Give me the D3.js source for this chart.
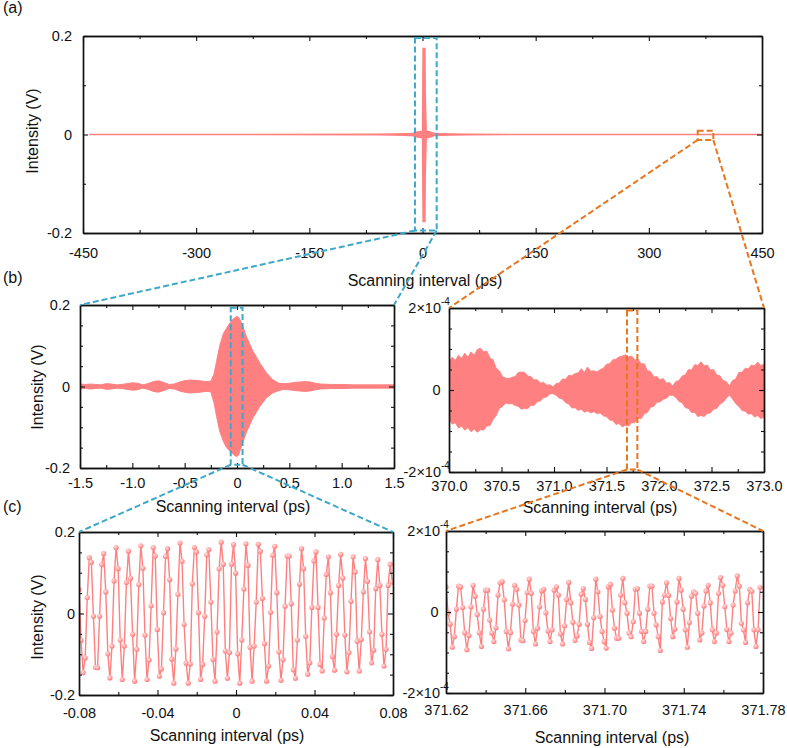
<!DOCTYPE html>
<html><head><meta charset="utf-8">
<script src="https://cdn.jsdelivr.net/npm/d3@7"></script>
<style>body{margin:0;background:#fff}</style>
</head><body><script>
// ---------------- DATA ----------------
// (a) full scan envelope (ps, V)
const aX  = [-442,-60,-40,-25,-16,-12,-8,-4,0,0.3,0.7,3.3,3.7,5,9,13,16,25,40,60,450];
const aUp = [0,0.0005,0.001,0.0015,0.002,0.003,0.005,0.006,0.007,0.085,0.175,0.175,0.085,0.007,0.006,0.004,0.002,0.0015,0.001,0.0005,0];
const aLo = [0,-0.0005,-0.001,-0.0015,-0.002,-0.003,-0.005,-0.006,-0.007,-0.085,-0.177,-0.177,-0.085,-0.007,-0.006,-0.004,-0.002,-0.0015,-0.001,-0.0005,0];
const aXTicks = [-450,-300,-150,0,150,300,450];
const aXMinor = [-375,-225,-75,75,225,375];
const aYTicks = [-0.2,0,0.2];
const aYMinor = [-0.1,0.1];

// (b) left: envelope of the central burst (ps, V)
const bLX  = [-1.5,-1.45,-1.4,-1.35,-1.3,-1.25,-1.2,-1.15,-1.1,-1.05,-1.0,-0.95,-0.9,-0.85,-0.8,-0.75,-0.7,-0.65,-0.6,-0.55,-0.5,-0.45,-0.4,-0.35,-0.3,-0.25,-0.22,-0.195,-0.165,-0.13,-0.1,-0.07,-0.04,-0.02,0,0.015,0.045,0.09,0.15,0.22,0.28,0.34,0.4,0.45,0.5,0.55,0.6,0.65,0.7,0.75,0.8,0.9,1.0,1.1,1.2,1.3,1.4,1.5];
const bLUp = [0.006,0.005,0.006,0.005,0.004,0.007,0.006,0.004,0.005,0.007,0.009,0.008,0.004,0.007,0.012,0.014,0.01,0.005,0.006,0.011,0.014,0.016,0.015,0.014,0.012,0.013,0.03,0.062,0.1,0.13,0.143,0.155,0.165,0.169,0.172,0.17,0.155,0.122,0.088,0.057,0.034,0.017,0.008,0.007,0.008,0.01,0.011,0.012,0.011,0.008,0.006,0.005,0.005,0.004,0.004,0.004,0.004,0.004];
const bLLo = [-0.006,-0.005,-0.006,-0.005,-0.004,-0.007,-0.006,-0.004,-0.005,-0.007,-0.009,-0.008,-0.004,-0.007,-0.012,-0.014,-0.01,-0.005,-0.006,-0.011,-0.014,-0.016,-0.015,-0.014,-0.012,-0.013,-0.04,-0.073,-0.11,-0.135,-0.15,-0.158,-0.165,-0.17,-0.172,-0.168,-0.145,-0.112,-0.078,-0.048,-0.028,-0.016,-0.01,-0.007,-0.008,-0.01,-0.011,-0.012,-0.011,-0.008,-0.006,-0.005,-0.005,-0.004,-0.004,-0.004,-0.004,-0.004];
const bLXTicks = [-1.5,-1.0,-0.5,0,0.5,1.0,1.5];
const bLXMinor = [-1.25,-0.75,-0.25,0.25,0.75,1.25];
const bYTicks = [-0.2,0,0.2];
const bYMinor = [-0.15,-0.1,-0.05,0.05,0.1,0.15];

// (b) right: envelope near 371 ps, read every 0.03 ps from 370.00 (units of 1e-4 V)
const bRStart = 370.0, bRStep = 0.03;
const bRUp = [0.70,0.80,0.72,0.85,0.77,0.90,0.80,0.93,0.85,0.99,
1.02,0.93,0.95,0.78,0.74,0.53,0.47,0.33,0.29,0.28,
0.31,0.33,0.43,0.44,0.43,0.34,0.33,0.25,0.25,0.17,
0.19,0.12,0.13,0.08,0.16,0.17,0.27,0.26,0.36,0.35,
0.40,0.42,0.52,0.43,0.56,0.46,0.47,0.44,0.50,0.53,
0.63,0.64,0.74,0.75,0.81,0.83,0.86,0.81,0.83,0.73,
0.75,0.64,0.64,0.47,0.45,0.32,0.33,0.25,0.28,0.17,
0.18,0.10,0.21,0.23,0.34,0.37,0.50,0.49,0.62,0.60,
0.69,0.59,0.61,0.49,0.50,0.37,0.35,0.23,0.21,0.10,
0.23,0.27,0.43,0.43,0.53,0.52,0.61,0.59,0.68,0.60,
0.63];
const bRLo = [-0.72,-0.83,-0.80,-0.93,-0.88,-0.98,-0.92,-1.02,-0.96,-1.03,
-0.97,-0.98,-0.88,-0.87,-0.72,-0.62,-0.45,-0.40,-0.32,-0.34,
-0.33,-0.38,-0.40,-0.47,-0.45,-0.46,-0.37,-0.38,-0.29,-0.27,
-0.19,-0.17,-0.10,-0.09,-0.13,-0.20,-0.22,-0.31,-0.34,-0.44,
-0.43,-0.50,-0.47,-0.54,-0.51,-0.56,-0.53,-0.58,-0.56,-0.63,
-0.65,-0.73,-0.75,-0.84,-0.82,-0.90,-0.86,-0.88,-0.80,-0.80,
-0.70,-0.70,-0.58,-0.55,-0.42,-0.40,-0.30,-0.29,-0.23,-0.20,
-0.13,-0.13,-0.18,-0.28,-0.31,-0.43,-0.45,-0.55,-0.55,-0.65,
-0.62,-0.65,-0.57,-0.56,-0.47,-0.45,-0.35,-0.30,-0.20,-0.13,
-0.22,-0.33,-0.40,-0.50,-0.52,-0.59,-0.58,-0.66,-0.62,-0.70,
-0.66];
const bRXTicks = [370.0,370.5,371.0,371.5,372.0,372.5,373.0];
const bRXMinor = [370.25,370.75,371.25,371.75,372.25,372.75];
const smallYTicks = [-2,0,2];          // x 1e-4
const smallYMinor = [-1.5,-1,-0.5,0.5,1,1.5];

// (c) left: sampled points, start -0.08 ps, step 0.00105 ps (V)
const cLStart = -0.08, cStep = 0.00105;
const cLY = [0.059,-0.066,-0.145,-0.109,0.039,0.137,0.126,-0.007,-0.132,-0.133,
-0.007,0.12,0.147,0.053,-0.099,-0.158,-0.08,0.08,0.162,0.11,
-0.065,-0.162,-0.08,0.076,0.153,0.086,-0.051,-0.166,-0.088,0.071,
0.166,0.111,-0.053,-0.162,-0.114,0.019,0.162,0.141,-0.039,-0.154,
-0.136,0.002,0.14,0.159,0.083,-0.112,-0.171,-0.087,0.047,0.173,
0.128,-0.027,-0.122,-0.171,-0.124,0.073,0.162,0.151,0.002,-0.162,
-0.125,-0.007,0.144,0.157,0.028,-0.113,-0.166,-0.045,0.11,0.175,
0.121,-0.092,-0.159,-0.096,0.121,0.169,0.099,-0.099,-0.171,-0.065,
0.06,0.171,0.118,-0.083,-0.166,-0.08,0.028,0.17,0.153,0.037,
-0.074,-0.166,-0.129,0.003,0.143,0.165,0.051,-0.094,-0.164,-0.113,
0.018,0.141,0.141,0.024,-0.138,-0.159,-0.065,0.072,0.159,0.11,
-0.056,-0.149,-0.121,0.015,0.129,0.151,0.015,-0.125,-0.141,-0.011,
0.096,0.139,0.051,-0.106,-0.139,-0.051,0.069,0.145,0.087,-0.053,
-0.143,-0.096,0.03,0.139,0.102,-0.068,-0.141,-0.064,0.053,0.135,
0.079,-0.045,-0.121,-0.09,0.061,0.132,0.069,-0.051,-0.129,-0.088,
0.069,0.121,0.077];
const cLXTicks = [-0.08,-0.04,0,0.04,0.08];
const cLXMinor = [-0.06,-0.02,0.02,0.06];

// (c) right: sampled points, start 371.62 ps (units of 1e-4 V)
const cRStart = 371.62;
const cRY = [0.62,-0.02,-0.30,-0.87,-0.61,0.07,0.64,0.62,0.11,-0.51,
-0.93,-0.58,0.13,0.66,0.39,-0.06,-0.51,-0.85,0.07,0.54,
0.54,-0.20,-0.52,-0.73,-0.39,0.42,0.72,0.75,0.30,-0.48,
-0.91,-0.51,0.19,0.66,0.56,0.17,-0.69,-0.71,-0.21,0.48,
0.81,0.46,-0.48,-0.79,-0.40,0.13,0.52,0.56,-0.02,-0.47,
-0.73,-0.44,0.54,0.62,0.42,-0.54,-0.79,-0.34,0.31,0.73,
0.23,-0.25,-0.70,-0.59,-0.30,0.44,0.58,0.31,-0.30,-0.75,
-0.90,-0.14,0.81,0.50,-0.11,-0.48,-0.73,-0.89,0.62,0.68,
0.05,-0.40,-0.65,-0.65,0.42,0.83,0.23,-0.03,-0.52,-0.61,
-0.24,0.56,0.58,-0.03,-0.48,-0.73,-0.48,0.07,0.64,0.64,
-0.03,-0.32,-0.61,-0.95,0.25,0.42,0.72,0.41,-0.16,-0.61,
-0.42,0.25,0.83,0.54,0.07,-0.44,-0.87,-0.26,0.39,0.50,
0.46,-0.03,-0.69,-0.52,0.15,0.52,0.66,0.23,-0.44,-0.73,
-0.52,0.46,0.85,0.66,0.13,-0.43,-0.73,-0.52,0.17,0.52,
0.89,0.64,-0.28,-0.44,-0.75,0.23,0.56,0.51,-0.44,-0.85,
-0.44,0.61];
const cRXTicks = [371.62,371.66,371.70,371.74,371.78];
const cRXMinor = [371.64,371.68,371.72,371.76];

// zoom boxes [x0,x1,y0,y1] in their panel's data units
const aBlueBox   = [-10, 18.8, -0.195, 0.196];
const aOrangeBox = [364.8, 385.5, -0.011, 0.0077];
const bBlueBox   = [-0.06, 0.053, -0.192, 0.193];
const bOrangeBox = [371.695, 371.794, -1.94, 1.94];

const xTitle = "Scanning interval (ps)", yTitle = "Intensity (V)";

// ---------------- DRAWING ----------------
const FONT = "'Liberation Sans', Arial, sans-serif";
const RED = "#FF8080", BLUE = "#3DA8C8", ORANGE = "#E8761E";
const svg = d3.select("body").append("svg").attr("width",787).attr("height",748)
  .style("font-family",FONT);
const defs = svg.append("defs");
const grad = defs.append("radialGradient").attr("id","ball").attr("cx","38%").attr("cy","35%").attr("r","70%");
grad.append("stop").attr("offset","0%").attr("stop-color","#FFE2E2");
grad.append("stop").attr("offset","100%").attr("stop-color","#FF7070");

function panel(c){
  const x = d3.scaleLinear().domain(c.xDomain).range([c.left,c.right]);
  const y = d3.scaleLinear().domain(c.yDomain).range([c.bottom,c.top]);
  defs.append("clipPath").attr("id","clip"+c.id).append("rect")
    .attr("x",c.left).attr("y",c.top).attr("width",c.right-c.left).attr("height",c.bottom-c.top);
  const data = svg.append("g").attr("clip-path",`url(#clip${c.id})`);
  return {x,y,data,c};
}

function frame(p){
  const {x,y,c} = p;
  const g = svg.append("g");
  const add = (t, gen) => g.append("g").attr("transform",t).call(gen);
  add(`translate(0,${c.bottom})`, d3.axisBottom(x).tickValues(c.xMajor).tickSize(-5).tickSizeOuter(0).tickPadding(c.xPad).tickFormat(c.xFmt));
  add(`translate(0,${c.bottom})`, d3.axisBottom(x).tickValues(c.xMinor).tickSize(-3).tickSizeOuter(0).tickFormat(""));
  add(`translate(0,${c.top})`, d3.axisTop(x).tickValues(c.xMajor).tickSize(-5).tickSizeOuter(0).tickFormat(""));
  add(`translate(0,${c.top})`, d3.axisTop(x).tickValues(c.xMinor).tickSize(-3).tickSizeOuter(0).tickFormat(""));
  add(`translate(${c.left},0)`, d3.axisLeft(y).tickValues(c.yMajor).tickSize(-5).tickSizeOuter(0).tickPadding(c.yPad).tickFormat(c.yFmt || (()=>"")));
  add(`translate(${c.left},0)`, d3.axisLeft(y).tickValues(c.yMinor).tickSize(-3).tickSizeOuter(0).tickFormat(""));
  add(`translate(${c.right},0)`, d3.axisRight(y).tickValues(c.yMajor).tickSize(-5).tickSizeOuter(0).tickFormat(""));
  add(`translate(${c.right},0)`, d3.axisRight(y).tickValues(c.yMinor).tickSize(-3).tickSizeOuter(0).tickFormat(""));
  g.selectAll(".domain").attr("stroke","#111").attr("stroke-width",1.4);
  g.selectAll(".tick line").attr("stroke","#111").attr("stroke-width",1.1);
  g.selectAll("text").attr("font-family",FONT).attr("font-size",14.5).attr("fill","#111");
  if (c.expLabels){
    c.yMajor.forEach(v=>{
      if (v===0){
        g.append("text").attr("x",c.left-c.yPad).attr("y",y(v)).attr("dy","0.35em")
          .attr("text-anchor","end").attr("font-size",14.5).attr("fill","#111").text("0");
      } else {
        g.append("text").attr("x",c.left-c.yExpPad).attr("y",y(v)).attr("dy","0.35em")
          .attr("text-anchor","end").attr("font-size",14.5).attr("fill","#111").text((v<0?"-":"")+Math.abs(v)+"×10");
        g.append("text").attr("x",c.left-c.yExpPad).attr("y",y(v)-3).attr("font-size",10)
          .attr("fill","#111").text("-4");
      }
    });
  }
  g.append("text").attr("x",c.xtX).attr("y",c.xtY).attr("text-anchor","middle")
    .attr("font-size",16).attr("fill","#111").text(xTitle);
  if (c.ytX){
    g.append("text").attr("transform",`translate(${c.ytX},${c.ytY}) rotate(-90)`)
      .attr("text-anchor","middle").attr("font-size",16).attr("fill","#111").text(yTitle);
  }
}

const fmtPlain = d => String(d);
const fmt1 = d => d===0 ? "0" : d.toFixed(1);
const fmt2 = d => d===0 ? "0" : d.toFixed(2);

// Panel (a)
const A = panel({id:"A", left:83, right:762, top:36, bottom:233, xDomain:[-450,450], yDomain:[-0.2,0.2],
  xMajor:aXTicks, xMinor:aXMinor, yMajor:aYTicks, yMinor:aYMinor, xPad:14.5, yPad:11,
  xFmt:fmtPlain, yFmt:fmtPlain, xtX:425, xtY:286, ytX:38, ytY:131});
A.data.append("path").datum(aX.map((d,i)=>[d,aUp[i],aLo[i]]))
  .attr("d", d3.area().x(d=>A.x(d[0])).y0(d=>A.y(d[2])).y1(d=>A.y(d[1])))
  .attr("fill",RED).attr("stroke",RED).attr("stroke-width",1.3);
frame(A);

// Panel (b) left
const BL = panel({id:"BL", left:80, right:394, top:305, bottom:468, xDomain:[-1.5,1.5], yDomain:[-0.2,0.2],
  xMajor:bLXTicks, xMinor:bLXMinor, yMajor:bYTicks, yMinor:bYMinor, xPad:9.7, yPad:10,
  xFmt:fmt1, yFmt:fmtPlain, xtX:233, xtY:512, ytX:43, ytY:387});
BL.data.append("path").datum(bLX.map((d,i)=>[d,bLUp[i],bLLo[i]]))
  .attr("d", d3.area().x(d=>BL.x(d[0])).y0(d=>BL.y(d[2])).y1(d=>BL.y(d[1])))
  .attr("fill",RED).attr("stroke",RED).attr("stroke-width",1);
frame(BL);

// Panel (b) right
const BR = panel({id:"BR", left:449, right:764, top:308, bottom:472, xDomain:[370,373], yDomain:[-2,2],
  xMajor:bRXTicks, xMinor:bRXMinor, yMajor:smallYTicks, yMinor:smallYMinor, xPad:9.2, yPad:8.5, yExpPad:8,
  xFmt:fmt1, expLabels:true, xtX:600, xtY:513});
BR.data.append("path").datum(bRUp.map((u,i)=>[bRStart + i*bRStep, u, bRLo[i]]))
  .attr("d", d3.area().x(d=>BR.x(d[0])).y0(d=>BR.y(d[2])).y1(d=>BR.y(d[1])))
  .attr("fill",RED).attr("stroke",RED).attr("stroke-width",0.8);
frame(BR);

// Panel (c) left
const CL = panel({id:"CL", left:79, right:393, top:532, bottom:695, xDomain:[-0.08,0.08], yDomain:[-0.2,0.2],
  xMajor:cLXTicks, xMinor:cLXMinor, yMajor:bYTicks, yMinor:bYMinor, xPad:12.7, yPad:4,
  xFmt:fmt2, yFmt:fmtPlain, xtX:227, xtY:741, ytX:43, ytY:617});
const cLPts = cLY.map((v,i)=>[cLStart + i*cStep, v]);
CL.data.append("path").datum(cLPts).attr("d", d3.line().x(d=>CL.x(d[0])).y(d=>CL.y(d[1])))
  .attr("fill","none").attr("stroke",RED).attr("stroke-width",1.4);
CL.data.selectAll("circle").data(cLPts).join("circle")
  .attr("cx",d=>CL.x(d[0])).attr("cy",d=>CL.y(d[1])).attr("r",2.6).attr("fill","url(#ball)");
frame(CL);

// Panel (c) right
const CR = panel({id:"CR", left:446, right:763, top:531, bottom:693, xDomain:[371.62,371.78], yDomain:[-2,2],
  xMajor:cRXTicks, xMinor:cRXMinor, yMajor:smallYTicks, yMinor:smallYMinor, xPad:11.7, yPad:7.5, yExpPad:6,
  xFmt:fmt2, expLabels:true, xtX:612, xtY:743});
const cRPts = cRY.map((v,i)=>[cRStart + i*cStep, v]);
CR.data.append("path").datum(cRPts).attr("d", d3.line().x(d=>CR.x(d[0])).y(d=>CR.y(d[1])))
  .attr("fill","none").attr("stroke",RED).attr("stroke-width",1.4);
CR.data.selectAll("circle").data(cRPts).join("circle")
  .attr("cx",d=>CR.x(d[0])).attr("cy",d=>CR.y(d[1])).attr("r",2.6).attr("fill","url(#ball)");
frame(CR);

// panel letters
[["(a)",3,13],["(b)",3,283],["(c)",3,512]].forEach(([t,x,y])=>
  svg.append("text").attr("x",x).attr("y",y).attr("font-size",16).attr("fill","#111").text(t));

// zoom boxes and connectors
const ann = svg.append("g").attr("fill","none").attr("stroke-width",2).attr("stroke-dasharray","6,3");
function zoomBox(src, box, dst, color){
  const x0=src.x(box[0]), x1=src.x(box[1]), y0=src.y(box[3]), y1=src.y(box[2]);
  ann.append("rect").attr("x",x0).attr("y",y0).attr("width",x1-x0).attr("height",y1-y0).attr("stroke",color);
  ann.append("line").attr("x1",x0).attr("y1",y1).attr("x2",dst.c.left).attr("y2",dst.c.top).attr("stroke",color);
  ann.append("line").attr("x1",x1).attr("y1",y1).attr("x2",dst.c.right).attr("y2",dst.c.top).attr("stroke",color);
}
zoomBox(A, aBlueBox, BL, BLUE);
zoomBox(A, aOrangeBox, BR, ORANGE);
zoomBox(BL, bBlueBox, CL, BLUE);
zoomBox(BR, bOrangeBox, CR, ORANGE);
</script></body></html>
